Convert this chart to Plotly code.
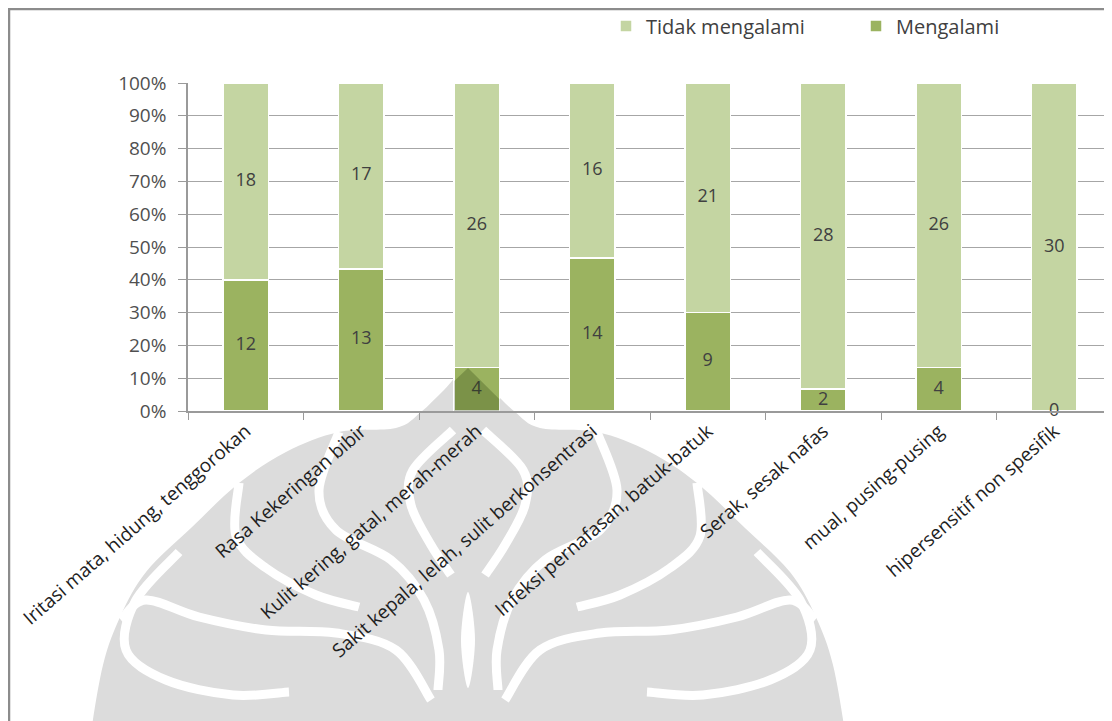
import plotly.graph_objects as go

categories = [
    "Iritasi mata, hidung, tenggorokan",
    "Rasa Kekeringan bibir",
    "Kulit kering, gatal, merah-merah",
    "Sakit kepala, lelah, sulit berkonsentrasi",
    "Infeksi pernafasan, batuk-batuk",
    "Serak, sesak nafas",
    "mual, pusing-pusing",
    "hipersensitif non spesifik",
]
mengalami = [12, 13, 4, 14, 9, 2, 4, 0]
tidak_mengalami = [18, 17, 26, 16, 21, 28, 26, 30]
y_ticks = [0, 0.1, 0.2, 0.3, 0.4, 0.5, 0.6, 0.7, 0.8, 0.9, 1.0]
y_tick_labels = ["0%", "10%", "20%", "30%", "40%", "50%", "60%", "70%", "80%", "90%", "100%"]

C_DARK = "#9BB360"
C_LIGHT = "#C4D5A2"
TXT = "#404040"
FONT = "Open Sans"

# page body has an 8px margin; figure sized to fill the rest of the window
OFF = 8
W, H = 1104, 713
L, T, B, R = 180, 75, 310, 0
pw, ph = W - L - R, H - T - B
BARGAP = 0.61

totals = [a + b for a, b in zip(mengalami, tidak_mengalami)]
m_frac = [a / t for a, t in zip(mengalami, totals)]
t_frac = [b / t for b, t in zip(tidak_mengalami, totals)]
m_mid = [f / 2 for f in m_frac]
t_mid = [mf + tf / 2 for mf, tf in zip(m_frac, t_frac)]

fig = go.Figure()
fig.add_trace(go.Bar(
    name="Mengalami", x=categories, y=m_frac,
    marker=dict(color=C_DARK, line=dict(color="white", width=1.5)),
    hoverinfo="skip",
))
fig.add_trace(go.Bar(
    name="Tidak mengalami", x=categories, y=t_frac,
    marker=dict(color=C_LIGHT, line=dict(color="white", width=1.5)),
    hoverinfo="skip",
))
fig.add_trace(go.Scatter(
    x=categories + categories, y=m_mid + t_mid,
    text=[str(v) for v in mengalami + tidak_mengalami],
    mode="text", textfont=dict(family=FONT, size=18, color=TXT),
    showlegend=False, cliponaxis=False, hoverinfo="skip",
))


# ---- helpers: screen px -> paper coords
def sx(p):
    return (p - OFF - L) / pw


def sy(p):
    return 1 - (p - OFF - T) / ph


def smooth_path(pts, closed=False):
    n = len(pts)
    if closed:
        P = pts[-1:] + pts + pts[:2]
    else:
        P = [pts[0]] + pts + [pts[-1]]
    d = "M %.5f,%.5f" % (sx(P[1][0]), sy(P[1][1]))
    segs = n if closed else n - 1
    for i in range(1, segs + 1):
        p0, p1, p2, p3 = P[i - 1], P[i], P[i + 1], P[i + 2]
        c1 = (p1[0] + (p2[0] - p0[0]) / 6, p1[1] + (p2[1] - p0[1]) / 6)
        c2 = (p2[0] - (p3[0] - p1[0]) / 6, p2[1] - (p3[1] - p1[1]) / 6)
        d += " C %.5f,%.5f %.5f,%.5f %.5f,%.5f" % (
            sx(c1[0]), sy(c1[1]), sx(c2[0]), sy(c2[1]), sx(p2[0]), sy(p2[1]))
    if closed:
        d += " Z"
    return d


CX = 468
def mirror(pts):
    return [(2 * CX - x, y) for x, y in pts]


# ---- watermark (stylised emblem), drawn under the grid
WM = "#DCDCDC"
right_env = [(492, 390), (515, 412), (540, 428), (597, 432), (650, 452), (697, 483),
             (745, 528), (790, 572), (815, 615), (833, 665), (846, 740)]
env = [(CX, 368)] + right_env + [(846, 760), (90, 760)] + mirror(right_env)[::-1]
fig.add_shape(type="path", xref="paper", yref="paper", path=smooth_path(env, closed=True),
              fillcolor=WM, line=dict(width=0), layer="below")

stripes = [
    [(483, 430), (523, 470), (525, 505), (505, 545), (485, 575)],
    [(597, 432), (617, 490), (600, 530), (545, 560), (512, 600), (497, 650), (498, 690)],
    [(697, 483), (700, 536), (670, 568), (620, 595), (577, 607)],
    [(505, 700), (540, 650), (600, 633), (670, 630), (737, 617), (790, 600), (815, 620)],
    [(757, 552), (800, 600), (810, 650), (770, 680), (703, 695), (647, 692)],
]
for s in stripes:
    for pts in (s, mirror(s)):
        fig.add_shape(type="path", xref="paper", yref="paper", path=smooth_path(pts),
                      line=dict(color="white", width=9), layer="below")
fig.add_shape(type="path", xref="paper", yref="paper",
              path=smooth_path([(CX, 592), (CX + 7, 640), (CX, 688), (CX - 7, 640)], closed=True),
              fillcolor="white", line=dict(width=0), layer="below")

# darkening of the watermark tip where it overlaps the third bar
slot = pw / len(categories)
bx0 = L + OFF + 2 * slot + slot * BARGAP / 2
bx1 = L + OFF + 3 * slot - slot * BARGAP / 2
tip = [(bx0, 411), (bx0, 381), (CX, 368), (bx1, 399), (bx1, 411)]
fig.add_shape(type="path", xref="paper", yref="paper",
              path="M " + " L ".join("%.5f,%.5f" % (sx(x), sy(y)) for x, y in tip) + " Z",
              fillcolor="rgba(40,60,10,0.28)", line=dict(width=0), layer="above")

# chart frame
fig.add_shape(type="rect", xref="paper", yref="paper",
              x0=sx(9), x1=sx(W + 40), y0=sy(9), y1=sy(H + 40),
              line=dict(color="#8C8C8C", width=2.5), layer="below")

fig.update_layout(
    width=W, height=H,
    margin=dict(l=L, r=R, t=T, b=B, autoexpand=False),
    paper_bgcolor="white", plot_bgcolor="rgba(0,0,0,0)",
    barmode="stack", bargap=BARGAP,
    font=dict(family=FONT, color=TXT),
    legend=dict(
        orientation="h", traceorder="reversed",
        x=sx(606), xanchor="left", y=sy(26), yanchor="middle",
        font=dict(family=FONT, size=20, color=TXT),
        entrywidth=205, entrywidthmode="pixels", itemwidth=30,
        bgcolor="rgba(0,0,0,0)",
    ),
    xaxis=dict(
        tickangle=-41, tickfont=dict(family=FONT, size=19, color="#1E1E1E"),
        showline=True, linecolor="#9A9A9A", linewidth=1.5,
        ticks="outside", tickson="boundaries", ticklen=7, tickcolor="#9A9A9A",
        showgrid=False, fixedrange=True,
    ),
    yaxis=dict(
        range=[0, 1], tickvals=y_ticks, ticktext=y_tick_labels,
        tickfont=dict(family=FONT, size=19, color="#505050"),
        showline=True, linecolor="#9A9A9A", linewidth=1.5,
        ticks="outside", ticklen=8, tickcolor="#9A9A9A", ticklabelstandoff=8,
        showgrid=True, gridcolor="#A6A6A6", gridwidth=1,
        zeroline=False, fixedrange=True,
    ),
)

fig.write_html("out.html")
